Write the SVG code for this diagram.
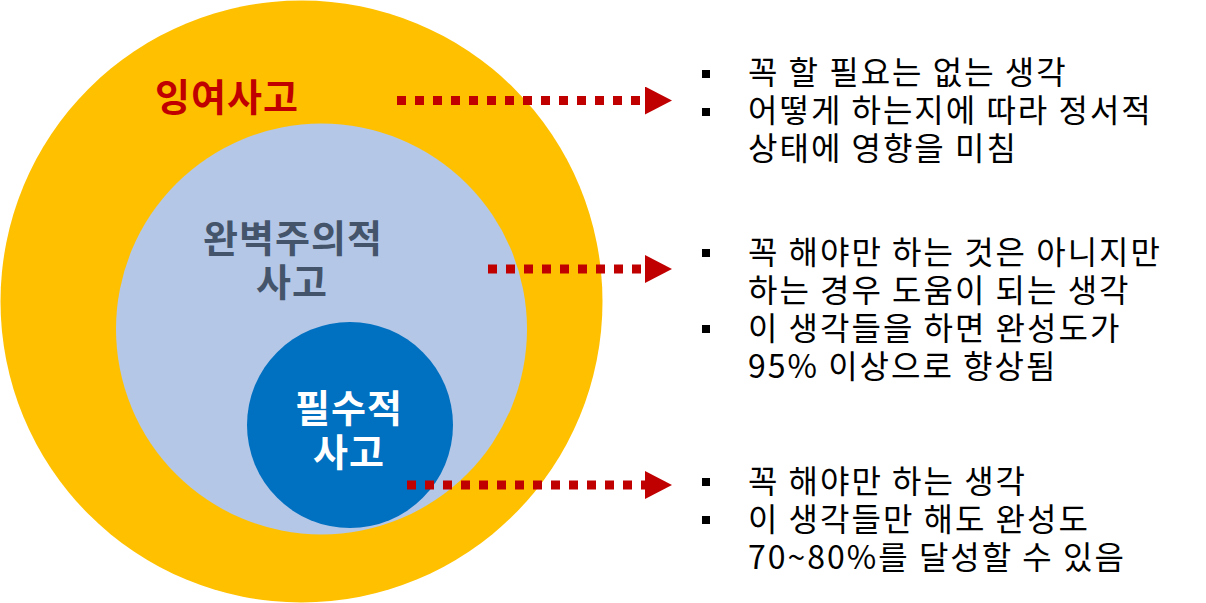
<svg xmlns="http://www.w3.org/2000/svg" width="1206" height="603" viewBox="0 0 1206 603">
<defs>
<style>
.lbl{font-family:"Noto Sans CJK KR","Noto Sans",sans-serif;font-weight:700;font-size:38px;letter-spacing:1px;text-anchor:middle}
.txt{font-family:"Noto Sans CJK KR","Noto Sans",sans-serif;font-size:32px;letter-spacing:2px;fill:#000}
.dot{stroke:#C00000;stroke-width:9;stroke-dasharray:9 9;fill:none}
.bul{fill:#000}
</style>
<marker id="ah" markerUnits="userSpaceOnUse" markerWidth="28" markerHeight="28" refX="0" refY="14" orient="auto">
<polygon points="0,0 27,14 0,28" fill="#C00000"/>
</marker>
</defs>
<rect width="1206" height="603" fill="#fff"/>
<g id="outer">
<circle cx="301.5" cy="301.5" r="301" fill="#FFC000"/>
<text class="lbl" x="227" y="111" fill="#C00000">잉여사고</text>
</g>
<g id="middle">
<circle cx="321.5" cy="329" r="205.5" fill="#B4C7E7"/>
<text class="lbl" x="293" y="252" fill="#44546A">완벽주의적</text>
<text class="lbl" x="292" y="296" fill="#44546A">사고</text>
</g>
<g id="inner">
<circle cx="350" cy="425" r="103" fill="#0070C0"/>
<text class="lbl" x="349" y="422" fill="#fff">필수적</text>
<text class="lbl" x="349" y="466" fill="#fff">사고</text>
</g>
<g id="connectors">
<path class="dot" d="M397,100.5 H645" marker-end="url(#ah)"/>
<path class="dot" d="M488,269 H645" marker-end="url(#ah)"/>
<path class="dot" d="M407,485 H645" marker-end="url(#ah)"/>
</g>
<g id="note1">
<rect class="bul" x="702" y="70" width="8" height="8"/>
<rect class="bul" x="702" y="108" width="8" height="8"/>
<text class="txt" x="748" y="84">꼭 할 필요는 없는 생각</text>
<text class="txt" x="748" y="122">어떻게 하는지에 따라 정서적</text>
<text class="txt" x="748" y="160">상태에 영향을 미침</text>
</g>
<g id="note2">
<rect class="bul" x="702" y="249" width="8" height="8"/>
<rect class="bul" x="702" y="325" width="8" height="8"/>
<text class="txt" x="748" y="264">꼭 해야만 하는 것은 아니지만</text>
<text class="txt" x="748" y="302">하는 경우 도움이 되는 생각</text>
<text class="txt" x="748" y="340">이 생각들을 하면 완성도가</text>
<text class="txt" x="748" y="378">95% 이상으로 향상됨</text>
</g>
<g id="note3">
<rect class="bul" x="702" y="478" width="8" height="8"/>
<rect class="bul" x="702" y="516" width="8" height="8"/>
<text class="txt" x="748" y="493">꼭 해야만 하는 생각</text>
<text class="txt" x="748" y="531">이 생각들만 해도 완성도</text>
<text class="txt" x="748" y="569">70~80%를 달성할 수 있음</text>
</g>
</svg>
